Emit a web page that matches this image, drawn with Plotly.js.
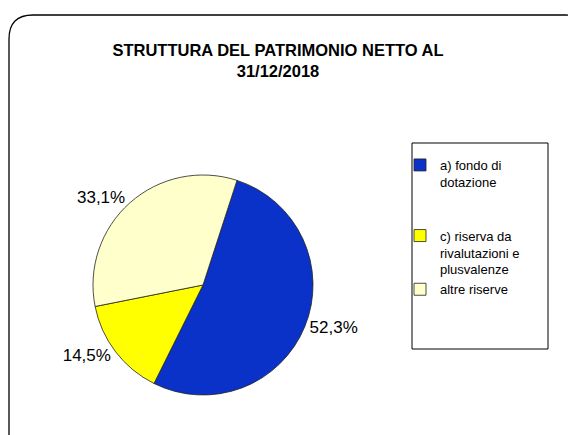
<!DOCTYPE html>
<html>
<head>
<meta charset="utf-8">
<script src="https://cdn.plot.ly/plotly-3.0.1.min.js"></script>
<style>html,body{margin:0;padding:0;background:#fff}#chart{width:568px;height:435px}</style>
</head>
<body>
<div id="chart"></div>
<script>
var categories = ["a) fondo di dotazione", "c) riserva da rivalutazioni e plusvalenze", "altre riserve"];
var legendLabels = ["a) fondo di<br>dotazione<br> <br> ", "c) riserva da<br>rivalutazioni e<br>plusvalenze", "altre riserve"];
var values = [52.3, 14.5, 33.1];
var colors = ["#0a32c8", "#ffff00", "#ffffcc"];
var titleText = "STRUTTURA DEL PATRIMONIO NETTO AL<br>31/12/2018";

var W = 568, H = 435;
function px(x){ return x / W; }
function py(y){ return 1 - y / H; }

// rounded border path (paper coords)
var r = 24, L = 9, T = 15, R = 590, B = 460;
var path = "M " + px(L) + "," + py(B) +
  " L " + px(L) + "," + py(T + r) +
  " Q " + px(L) + "," + py(T) + " " + px(L + r) + "," + py(T) +
  " L " + px(R - r) + "," + py(T) +
  " Q " + px(R) + "," + py(T) + " " + px(R) + "," + py(T + r) +
  " L " + px(R) + "," + py(B);

var trace = {
  type: "pie",
  labels: legendLabels,
  values: values,
  customdata: categories,
  sort: false,
  direction: "clockwise",
  rotation: 18,
  marker: { colors: colors, line: { color: "#222222", width: 0.8 } },
  textinfo: "text",
  texttemplate: "%{value:.1f}%",
  textposition: "outside",
  outsidetextfont: { size: 17, color: "#000", family: "Liberation Sans, Arial, sans-serif" },
  hovertemplate: "%{customdata}: %{value:.1f}%<extra></extra>",
  domain: { x: [px(93), px(313)], y: [py(395), py(175)] },
  automargin: false
};

var layout = {
  width: W, height: H,
  margin: { l: 0, r: 0, t: 0, b: 0 },
  paper_bgcolor: "#fff",
  separators: ",.",
  font: { family: "Liberation Sans, Arial, sans-serif", color: "#000" },
  title: {
    text: "<b>" + titleText + "</b>",
    font: { size: 16.5, family: "Liberation Sans, Arial, sans-serif", color: "#000" },
    x: px(278), xanchor: "center", y: py(56), yanchor: "middle"
  },
  showlegend: true,
  legend: {
    x: px(400), y: py(150), xanchor: "left", yanchor: "top",
    bgcolor: "rgba(0,0,0,0)", borderwidth: 0,
    valign: "top",
    font: { size: 13, family: "Liberation Sans, Arial, sans-serif", color: "#000" },
    itemclick: false, itemdoubleclick: false
  },
  shapes: [
    { type: "path", xref: "paper", yref: "paper", path: path, line: { color: "#000", width: 1.3 } },
    { type: "rect", xref: "paper", yref: "paper", x0: px(412), x1: px(548), y0: py(143), y1: py(349), line: { color: "#000", width: 1 }, fillcolor: "rgba(0,0,0,0)" }
  ]
};

Plotly.newPlot("chart", [trace], layout, { displayModeBar: false, staticPlot: true });
</script>
</body>
</html>
